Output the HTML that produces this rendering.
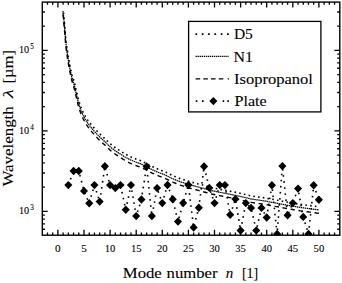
<!DOCTYPE html>
<html><head><meta charset="utf-8"><title>Wavelength vs mode number</title>
<style>html,body{margin:0;padding:0;background:#fff}svg{display:block}text{font-family:"Liberation Serif",serif;fill:#000;stroke:#000;stroke-width:0.1px}</style>
</head><body>
<svg width="342" height="283" viewBox="0 0 342 283">
<rect width="342" height="283" fill="#fff"/>
<defs><clipPath id="c"><rect x="42.3" y="2.1" width="297.5" height="233.1"/></clipPath><clipPath id="c2"><rect x="42.3" y="10.3" width="297.5" height="224.89999999999998"/></clipPath></defs>
<g clip-path="url(#c)">
<path d="M68.3,185.1 L73.6,171.0 L78.8,171.0 L84.0,190.9 L89.2,203.3 L94.4,185.1 L99.7,201.6 L104.9,166.3 L110.1,185.1 L115.3,188.1 L120.5,185.1 L125.8,209.8 L131.0,185.1 L136.2,216.1 L141.4,199.5 L146.6,166.5 L151.9,216.1 L157.1,188.1 L162.3,203.1 L167.5,185.0 L172.7,199.2 L178.0,221.6 L183.2,203.0 L188.4,185.0 L193.6,227.5 L198.8,207.8 L204.1,166.5 L209.3,187.9 L214.5,203.1 L219.7,185.1 L224.9,185.1 L230.2,214.8 L235.4,199.1 L240.6,230.5 L245.8,203.1 L251.0,207.9 L256.3,230.4 L261.5,207.9 L266.7,217.5 L271.9,185.3 L277.1,234.0 L282.4,166.1 L287.6,215.3 L292.8,203.1 L298.0,188.6 L303.2,216.9 L308.5,234.0 L313.7,185.3 L318.9,199.8" fill="none" stroke="#000" stroke-width="1.6" stroke-dasharray="1.6 4.5"/>
<path d="M64.3,185.1 L68.3,180.9 L72.4,185.1 L68.3,189.3ZM69.5,171.0 L73.6,166.8 L77.6,171.0 L73.6,175.2ZM74.7,171.0 L78.8,166.8 L82.8,171.0 L78.8,175.2ZM80.0,190.9 L84.0,186.7 L88.0,190.9 L84.0,195.1ZM85.2,203.3 L89.2,199.1 L93.3,203.3 L89.2,207.5ZM90.4,185.1 L94.4,180.9 L98.5,185.1 L94.4,189.3ZM95.6,201.6 L99.7,197.4 L103.7,201.6 L99.7,205.8ZM100.8,166.3 L104.9,162.1 L108.9,166.3 L104.9,170.5ZM106.0,185.1 L110.1,180.9 L114.1,185.1 L110.1,189.3ZM111.3,188.1 L115.3,183.9 L119.4,188.1 L115.3,192.3ZM116.5,185.1 L120.5,180.9 L124.6,185.1 L120.5,189.3ZM121.7,209.8 L125.8,205.6 L129.8,209.8 L125.8,214.0ZM126.9,185.1 L131.0,180.9 L135.0,185.1 L131.0,189.3ZM132.1,216.1 L136.2,211.9 L140.2,216.1 L136.2,220.3ZM137.4,199.5 L141.4,195.3 L145.5,199.5 L141.4,203.7ZM142.6,166.5 L146.6,162.3 L150.7,166.5 L146.6,170.7ZM147.8,216.1 L151.9,211.9 L155.9,216.1 L151.9,220.3ZM153.0,188.1 L157.1,183.9 L161.1,188.1 L157.1,192.3ZM158.2,203.1 L162.3,198.9 L166.3,203.1 L162.3,207.3ZM163.5,185.0 L167.5,180.8 L171.6,185.0 L167.5,189.2ZM168.7,199.2 L172.7,195.0 L176.8,199.2 L172.7,203.4ZM173.9,221.6 L178.0,217.4 L182.0,221.6 L178.0,225.8ZM179.1,203.0 L183.2,198.8 L187.2,203.0 L183.2,207.2ZM184.3,185.0 L188.4,180.8 L192.5,185.0 L188.4,189.2ZM189.6,227.5 L193.6,223.3 L197.7,227.5 L193.6,231.7ZM194.8,207.8 L198.8,203.6 L202.9,207.8 L198.8,212.0ZM200.0,166.5 L204.1,162.3 L208.1,166.5 L204.1,170.7ZM205.2,187.9 L209.3,183.7 L213.3,187.9 L209.3,192.1ZM210.4,203.1 L214.5,198.9 L218.6,203.1 L214.5,207.3ZM215.7,185.1 L219.7,180.9 L223.8,185.1 L219.7,189.3ZM220.9,185.1 L224.9,180.9 L229.0,185.1 L224.9,189.3ZM226.1,214.8 L230.2,210.6 L234.2,214.8 L230.2,219.0ZM231.3,199.1 L235.4,194.9 L239.4,199.1 L235.4,203.3ZM236.5,230.5 L240.6,226.3 L244.7,230.5 L240.6,234.7ZM241.8,203.1 L245.8,198.9 L249.9,203.1 L245.8,207.3ZM247.0,207.9 L251.0,203.7 L255.1,207.9 L251.0,212.1ZM252.2,230.4 L256.3,226.2 L260.3,230.4 L256.3,234.6ZM257.4,207.9 L261.5,203.7 L265.5,207.9 L261.5,212.1ZM262.6,217.5 L266.7,213.3 L270.8,217.5 L266.7,221.7ZM267.9,185.3 L271.9,181.1 L276.0,185.3 L271.9,189.5ZM273.1,234.0 L277.1,229.8 L281.2,234.0 L277.1,238.2ZM278.3,166.1 L282.4,161.9 L286.4,166.1 L282.4,170.3ZM283.5,215.3 L287.6,211.1 L291.6,215.3 L287.6,219.5ZM288.7,203.1 L292.8,198.9 L296.8,203.1 L292.8,207.3ZM294.0,188.6 L298.0,184.4 L302.1,188.6 L298.0,192.8ZM299.2,216.9 L303.2,212.7 L307.3,216.9 L303.2,221.1ZM304.4,234.0 L308.5,229.8 L312.5,234.0 L308.5,238.2ZM309.6,185.3 L313.7,181.1 L317.7,185.3 L313.7,189.5ZM314.8,199.8 L318.9,195.6 L322.9,199.8 L318.9,204.0Z" fill="#000"/>
<g clip-path="url(#c2)"><path d="M62.9,7.8 L63.2,10.1 L63.5,12.4 L63.7,14.7 L63.9,17.0 L64.1,19.3 L64.3,21.6 L64.5,24.0 L64.7,26.3 L64.9,28.6 L65.1,30.9 L65.3,33.2 L65.5,35.5 L65.7,37.8 L65.9,40.1 L66.2,42.4 L66.5,44.7 L66.8,47.0 L67.1,49.3 L67.5,51.6 L67.9,53.9 L68.2,56.2 L68.6,58.5 L69.0,60.8 L69.5,63.0 L69.9,65.3 L70.4,67.6 L70.8,69.9 L71.4,72.1 L71.9,74.4 L72.6,76.6 L73.3,78.8 L73.9,81.0 L74.6,83.3 L75.1,85.5 L75.6,87.8 L76.1,90.0 L76.7,92.3 L77.2,94.6 L77.7,96.8 L78.3,99.1 L79.0,101.3 L79.7,103.5 L80.4,105.7 L81.2,107.9 L82.1,110.0 L83.1,112.1 L84.2,114.2 L85.3,116.2 L86.5,118.2 L87.8,120.1 L89.2,122.0 L90.6,123.8 L92.0,125.6 L93.6,127.4 L95.1,129.1 L96.7,130.8 L98.3,132.5 L100.0,134.1 L101.7,135.7 L103.4,137.3 L105.1,138.8 L106.7,140.5 L108.4,142.1 L110.1,143.6 L111.9,145.1 L113.7,146.5 L115.6,147.9 L117.6,149.2 L119.5,150.4 L121.5,151.7 L123.4,152.9 L125.4,154.1 L127.5,155.2 L129.5,156.3 L131.6,157.3 L133.7,158.1 L135.9,159.0 L138.1,159.8 L140.3,160.6 L142.4,161.5 L144.5,162.5 L146.5,163.6 L148.6,164.8 L150.6,165.8 L152.7,166.8 L154.8,167.8 L157.0,168.7 L159.1,169.6 L161.3,170.4 L163.5,171.2 L165.6,172.1 L167.7,173.1 L169.7,174.2 L171.8,175.2 L173.9,176.1 L176.1,177.0 L178.2,177.9 L180.4,178.7 L182.6,179.4 L184.8,180.1 L187.0,180.8 L189.3,181.4 L191.5,182.1 L193.7,182.7 L196.0,183.3 L198.2,183.9 L200.5,184.5 L202.7,185.1 L204.9,185.7 L207.2,186.3 L209.4,186.9 L211.7,187.5 L213.9,188.0 L216.2,188.5 L218.5,189.0 L220.7,189.4 L223.0,189.8 L225.3,190.2 L227.6,190.7 L229.9,191.1 L232.1,191.6 L234.4,192.1 L236.7,192.5 L238.9,193.0 L241.2,193.5 L243.5,194.1 L245.7,194.6 L248.0,195.2 L250.2,195.7 L252.5,196.1 L254.8,196.5 L257.1,196.8 L259.4,197.1 L261.7,197.4 L264.0,197.8 L266.3,198.1 L268.5,198.6 L270.8,199.0 L273.1,199.4 L275.4,199.9 L277.7,200.3 L279.9,200.7 L282.2,201.2 L284.5,201.6 L286.8,202.0 L289.1,202.4 L291.3,202.8 L293.6,203.2 L295.9,203.6 L298.2,204.0 L300.5,204.4 L302.8,204.7 L305.1,205.0 L307.4,205.3 L309.7,205.6 L312.0,205.9 L314.3,206.2 L316.6,206.5 L318.9,206.7" fill="none" stroke="#000" stroke-width="1.6" stroke-dasharray="1.6 3.2"/>
<path d="M62.9,10.9 L63.2,13.2 L63.5,15.5 L63.7,17.8 L63.9,20.1 L64.1,22.4 L64.3,24.7 L64.5,27.1 L64.7,29.4 L64.9,31.7 L65.1,34.0 L65.3,36.3 L65.5,38.6 L65.7,40.9 L65.9,43.2 L66.2,45.5 L66.5,47.8 L66.8,50.1 L67.1,52.4 L67.5,54.7 L67.9,57.0 L68.2,59.3 L68.6,61.6 L69.0,63.9 L69.5,66.1 L69.9,68.4 L70.4,70.7 L70.8,73.0 L71.4,75.2 L71.9,77.5 L72.6,79.7 L73.3,81.9 L73.9,84.1 L74.6,86.4 L75.1,88.6 L75.6,90.9 L76.1,93.1 L76.7,95.4 L77.2,97.7 L77.7,99.9 L78.3,102.2 L79.0,104.4 L79.7,106.6 L80.4,108.8 L81.2,111.0 L82.1,113.1 L83.1,115.2 L84.2,117.3 L85.3,119.3 L86.5,121.3 L87.8,123.2 L89.2,125.1 L90.6,126.9 L92.0,128.7 L93.6,130.5 L95.1,132.2 L96.7,133.9 L98.3,135.6 L100.0,137.2 L101.7,138.8 L103.4,140.4 L105.1,141.9 L106.7,143.6 L108.4,145.2 L110.1,146.7 L111.9,148.2 L113.7,149.6 L115.6,151.0 L117.6,152.3 L119.5,153.5 L121.5,154.8 L123.4,156.0 L125.4,157.2 L127.5,158.3 L129.5,159.4 L131.6,160.4 L133.7,161.2 L135.9,162.1 L138.1,162.9 L140.3,163.7 L142.4,164.6 L144.5,165.6 L146.5,166.7 L148.6,167.9 L150.6,168.9 L152.7,169.9 L154.8,170.9 L157.0,171.8 L159.1,172.7 L161.3,173.5 L163.5,174.3 L165.6,175.2 L167.7,176.2 L169.7,177.3 L171.8,178.3 L173.9,179.2 L176.1,180.1 L178.2,181.0 L180.4,181.8 L182.6,182.5 L184.8,183.2 L187.0,183.9 L189.3,184.5 L191.5,185.2 L193.7,185.8 L196.0,186.4 L198.2,187.0 L200.5,187.6 L202.7,188.2 L204.9,188.8 L207.2,189.4 L209.4,190.0 L211.7,190.6 L213.9,191.1 L216.2,191.6 L218.5,192.1 L220.7,192.5 L223.0,192.9 L225.3,193.3 L227.6,193.8 L229.9,194.2 L232.1,194.7 L234.4,195.2 L236.7,195.6 L238.9,196.1 L241.2,196.6 L243.5,197.2 L245.7,197.7 L248.0,198.3 L250.2,198.8 L252.5,199.2 L254.8,199.6 L257.1,199.9 L259.4,200.2 L261.7,200.5 L264.0,200.9 L266.3,201.2 L268.5,201.7 L270.8,202.1 L273.1,202.5 L275.4,203.0 L277.7,203.4 L279.9,203.8 L282.2,204.3 L284.5,204.7 L286.8,205.1 L289.1,205.5 L291.3,205.9 L293.6,206.3 L295.9,206.7 L298.2,207.1 L300.5,207.5 L302.8,207.8 L305.1,208.1 L307.4,208.4 L309.7,208.7 L312.0,209.0 L314.3,209.3 L316.6,209.6 L318.9,209.8" fill="none" stroke="#000" stroke-width="1.25" stroke-dasharray="1.5 0.55"/>
<path d="M62.9,14.3 L63.2,16.6 L63.5,18.9 L63.7,21.2 L63.9,23.5 L64.1,25.8 L64.3,28.1 L64.5,30.5 L64.7,32.8 L64.9,35.1 L65.1,37.4 L65.3,39.7 L65.5,42.0 L65.7,44.3 L65.9,46.6 L66.2,48.9 L66.5,51.2 L66.8,53.5 L67.1,55.8 L67.5,58.1 L67.9,60.4 L68.2,62.7 L68.6,65.0 L69.0,67.3 L69.5,69.5 L69.9,71.8 L70.4,74.1 L70.8,76.4 L71.4,78.6 L71.9,80.9 L72.6,83.1 L73.3,85.3 L73.9,87.5 L74.6,89.8 L75.1,92.0 L75.6,94.3 L76.1,96.5 L76.7,98.8 L77.2,101.1 L77.7,103.3 L78.3,105.6 L79.0,107.8 L79.7,110.0 L80.4,112.2 L81.2,114.4 L82.1,116.5 L83.1,118.6 L84.2,120.7 L85.3,122.7 L86.5,124.7 L87.8,126.6 L89.2,128.5 L90.6,130.3 L92.0,132.1 L93.6,133.9 L95.1,135.6 L96.7,137.3 L98.3,139.0 L100.0,140.6 L101.7,142.2 L103.4,143.8 L105.1,145.3 L106.7,147.0 L108.4,148.6 L110.1,150.1 L111.9,151.6 L113.7,153.0 L115.6,154.4 L117.6,155.7 L119.5,156.9 L121.5,158.2 L123.4,159.4 L125.4,160.6 L127.5,161.7 L129.5,162.8 L131.6,163.8 L133.7,164.6 L135.9,165.5 L138.1,166.3 L140.3,167.1 L142.4,168.0 L144.5,169.0 L146.5,170.1 L148.6,171.3 L150.6,172.3 L152.7,173.3 L154.8,174.3 L157.0,175.2 L159.1,176.1 L161.3,176.9 L163.5,177.7 L165.6,178.6 L167.7,179.6 L169.7,180.7 L171.8,181.7 L173.9,182.6 L176.1,183.5 L178.2,184.4 L180.4,185.2 L182.6,185.9 L184.8,186.6 L187.0,187.3 L189.3,187.9 L191.5,188.6 L193.7,189.2 L196.0,189.8 L198.2,190.4 L200.5,191.0 L202.7,191.6 L204.9,192.2 L207.2,192.8 L209.4,193.4 L211.7,194.0 L213.9,194.5 L216.2,195.0 L218.5,195.5 L220.7,195.9 L223.0,196.3 L225.3,196.7 L227.6,197.2 L229.9,197.6 L232.1,198.1 L234.4,198.6 L236.7,199.0 L238.9,199.5 L241.2,200.0 L243.5,200.6 L245.7,201.1 L248.0,201.7 L250.2,202.2 L252.5,202.6 L254.8,203.0 L257.1,203.3 L259.4,203.6 L261.7,203.9 L264.0,204.3 L266.3,204.6 L268.5,205.1 L270.8,205.5 L273.1,205.9 L275.4,206.4 L277.7,206.8 L279.9,207.2 L282.2,207.7 L284.5,208.1 L286.8,208.5 L289.1,208.9 L291.3,209.3 L293.6,209.7 L295.9,210.1 L298.2,210.5 L300.5,210.9 L302.8,211.2 L305.1,211.5 L307.4,211.8 L309.7,212.1 L312.0,212.4 L314.3,212.7 L316.6,213.0 L318.9,213.2" fill="none" stroke="#000" stroke-width="1.4" stroke-dasharray="4.4 3.7"/>
</g></g>
<path d="M47.46,235.2 v-2.6 M47.46,2.1 v2.6 M52.68,235.2 v-2.6 M52.68,2.1 v2.6 M57.90,235.2 v-5.4 M57.90,2.1 v5.4 M63.12,235.2 v-2.6 M63.12,2.1 v2.6 M68.34,235.2 v-2.6 M68.34,2.1 v2.6 M73.56,235.2 v-2.6 M73.56,2.1 v2.6 M78.78,235.2 v-2.6 M78.78,2.1 v2.6 M84.00,235.2 v-5.4 M84.00,2.1 v5.4 M89.22,235.2 v-2.6 M89.22,2.1 v2.6 M94.44,235.2 v-2.6 M94.44,2.1 v2.6 M99.66,235.2 v-2.6 M99.66,2.1 v2.6 M104.88,235.2 v-2.6 M104.88,2.1 v2.6 M110.10,235.2 v-5.4 M110.10,2.1 v5.4 M115.32,235.2 v-2.6 M115.32,2.1 v2.6 M120.54,235.2 v-2.6 M120.54,2.1 v2.6 M125.76,235.2 v-2.6 M125.76,2.1 v2.6 M130.98,235.2 v-2.6 M130.98,2.1 v2.6 M136.20,235.2 v-5.4 M136.20,2.1 v5.4 M141.42,235.2 v-2.6 M141.42,2.1 v2.6 M146.64,235.2 v-2.6 M146.64,2.1 v2.6 M151.86,235.2 v-2.6 M151.86,2.1 v2.6 M157.08,235.2 v-2.6 M157.08,2.1 v2.6 M162.30,235.2 v-5.4 M162.30,2.1 v5.4 M167.52,235.2 v-2.6 M167.52,2.1 v2.6 M172.74,235.2 v-2.6 M172.74,2.1 v2.6 M177.96,235.2 v-2.6 M177.96,2.1 v2.6 M183.18,235.2 v-2.6 M183.18,2.1 v2.6 M188.40,235.2 v-5.4 M188.40,2.1 v5.4 M193.62,235.2 v-2.6 M193.62,2.1 v2.6 M198.84,235.2 v-2.6 M198.84,2.1 v2.6 M204.06,235.2 v-2.6 M204.06,2.1 v2.6 M209.28,235.2 v-2.6 M209.28,2.1 v2.6 M214.50,235.2 v-5.4 M214.50,2.1 v5.4 M219.72,235.2 v-2.6 M219.72,2.1 v2.6 M224.94,235.2 v-2.6 M224.94,2.1 v2.6 M230.16,235.2 v-2.6 M230.16,2.1 v2.6 M235.38,235.2 v-2.6 M235.38,2.1 v2.6 M240.60,235.2 v-5.4 M240.60,2.1 v5.4 M245.82,235.2 v-2.6 M245.82,2.1 v2.6 M251.04,235.2 v-2.6 M251.04,2.1 v2.6 M256.26,235.2 v-2.6 M256.26,2.1 v2.6 M261.48,235.2 v-2.6 M261.48,2.1 v2.6 M266.70,235.2 v-5.4 M266.70,2.1 v5.4 M271.92,235.2 v-2.6 M271.92,2.1 v2.6 M277.14,235.2 v-2.6 M277.14,2.1 v2.6 M282.36,235.2 v-2.6 M282.36,2.1 v2.6 M287.58,235.2 v-2.6 M287.58,2.1 v2.6 M292.80,235.2 v-5.4 M292.80,2.1 v5.4 M298.02,235.2 v-2.6 M298.02,2.1 v2.6 M303.24,235.2 v-2.6 M303.24,2.1 v2.6 M308.46,235.2 v-2.6 M308.46,2.1 v2.6 M313.68,235.2 v-2.6 M313.68,2.1 v2.6 M318.90,235.2 v-5.4 M318.90,2.1 v5.4 M324.12,235.2 v-2.6 M324.12,2.1 v2.6 M329.34,235.2 v-2.6 M329.34,2.1 v2.6 M334.56,235.2 v-2.6 M334.56,2.1 v2.6 M42.3,229.26 h2.6 M339.8,229.26 h-2.6 M42.3,223.87 h2.6 M339.8,223.87 h-2.6 M42.3,219.20 h2.6 M339.8,219.20 h-2.6 M42.3,215.08 h2.6 M339.8,215.08 h-2.6 M42.3,211.40 h5.4 M339.8,211.40 h-5.4 M42.3,187.17 h2.6 M339.8,187.17 h-2.6 M42.3,172.99 h2.6 M339.8,172.99 h-2.6 M42.3,162.93 h2.6 M339.8,162.93 h-2.6 M42.3,155.13 h2.6 M339.8,155.13 h-2.6 M42.3,148.76 h2.6 M339.8,148.76 h-2.6 M42.3,143.37 h2.6 M339.8,143.37 h-2.6 M42.3,138.70 h2.6 M339.8,138.70 h-2.6 M42.3,134.58 h2.6 M339.8,134.58 h-2.6 M42.3,130.90 h5.4 M339.8,130.90 h-5.4 M42.3,106.67 h2.6 M339.8,106.67 h-2.6 M42.3,92.49 h2.6 M339.8,92.49 h-2.6 M42.3,82.43 h2.6 M339.8,82.43 h-2.6 M42.3,74.63 h2.6 M339.8,74.63 h-2.6 M42.3,68.26 h2.6 M339.8,68.26 h-2.6 M42.3,62.87 h2.6 M339.8,62.87 h-2.6 M42.3,58.20 h2.6 M339.8,58.20 h-2.6 M42.3,54.08 h2.6 M339.8,54.08 h-2.6 M42.3,50.40 h5.4 M339.8,50.40 h-5.4 M42.3,26.17 h2.6 M339.8,26.17 h-2.6 M42.3,11.99 h2.6 M339.8,11.99 h-2.6" stroke="#000" stroke-width="1.3" fill="none"/>
<rect x="42.3" y="2.1" width="297.5" height="233.1" fill="none" stroke="#000" stroke-width="1.4"/>
<rect x="188.6" y="21.4" width="132.3" height="90.5" fill="#fff" stroke="#000" stroke-width="1.3"/><path d="M195.45,34.1 H229" stroke="#000" stroke-width="1.7" stroke-dasharray="1.7 4.62" fill="none"/><path d="M195.5,56.4 H228.8" stroke="#000" stroke-width="1.25" stroke-dasharray="1.35 0.7" fill="none"/><path d="M195.6,78.9 H229" stroke="#000" stroke-width="1.15" stroke-dasharray="4.6 3.1 4.6 3.1 4.6 3.1 4.6 4.4 1.3 99" fill="none"/><path d="M195.7,101.1 h1.6 M202.0,101.1 h1.6 M222.6,101.1 h1.6 M227.3,101.1 h1.6" stroke="#000" stroke-width="1.6" fill="none"/><path d="M209.4,101.1 L213.4,96.9 L217.4,101.1 L213.4,105.3Z" fill="#000"/><text x="233.9" y="39.3" font-size="14.8" text-anchor="start" textLength="19.0" lengthAdjust="spacingAndGlyphs" >D5</text><text x="233.6" y="61.9" font-size="14.8" text-anchor="start" textLength="19.4" lengthAdjust="spacingAndGlyphs" >N1</text><text x="234.0" y="84.0" font-size="14.8" text-anchor="start" textLength="78.9" lengthAdjust="spacingAndGlyphs" >Isopropanol</text><text x="234.5" y="106.1" font-size="14.8" text-anchor="start" textLength="32.2" lengthAdjust="spacingAndGlyphs" >Plate</text>
<text x="55.1" y="251.8" font-size="10.6" text-anchor="start" textLength="5.6" lengthAdjust="spacingAndGlyphs" >0</text><text x="81.2" y="251.8" font-size="10.6" text-anchor="start" textLength="5.6" lengthAdjust="spacingAndGlyphs" >5</text><text x="104.8" y="251.8" font-size="10.6" text-anchor="start" textLength="10.6" lengthAdjust="spacingAndGlyphs" >10</text><text x="130.9" y="251.8" font-size="10.6" text-anchor="start" textLength="10.6" lengthAdjust="spacingAndGlyphs" >15</text><text x="157.0" y="251.8" font-size="10.6" text-anchor="start" textLength="10.6" lengthAdjust="spacingAndGlyphs" >20</text><text x="183.1" y="251.8" font-size="10.6" text-anchor="start" textLength="10.6" lengthAdjust="spacingAndGlyphs" >25</text><text x="209.2" y="251.8" font-size="10.6" text-anchor="start" textLength="10.6" lengthAdjust="spacingAndGlyphs" >30</text><text x="235.3" y="251.8" font-size="10.6" text-anchor="start" textLength="10.6" lengthAdjust="spacingAndGlyphs" >35</text><text x="261.4" y="251.8" font-size="10.6" text-anchor="start" textLength="10.6" lengthAdjust="spacingAndGlyphs" >40</text><text x="287.5" y="251.8" font-size="10.6" text-anchor="start" textLength="10.6" lengthAdjust="spacingAndGlyphs" >45</text><text x="313.6" y="251.8" font-size="10.6" text-anchor="start" textLength="10.6" lengthAdjust="spacingAndGlyphs" >50</text><text x="19.0" y="53.4" font-size="10.6" text-anchor="start" textLength="10.2" lengthAdjust="spacingAndGlyphs" >10</text><text x="30.2" y="49.1" font-size="7.6" text-anchor="start" textLength="3.6" lengthAdjust="spacingAndGlyphs" >5</text><text x="19.0" y="133.9" font-size="10.6" text-anchor="start" textLength="10.2" lengthAdjust="spacingAndGlyphs" >10</text><text x="30.2" y="129.6" font-size="7.6" text-anchor="start" textLength="3.6" lengthAdjust="spacingAndGlyphs" >4</text><text x="19.0" y="214.4" font-size="10.6" text-anchor="start" textLength="10.2" lengthAdjust="spacingAndGlyphs" >10</text><text x="30.2" y="210.1" font-size="7.6" text-anchor="start" textLength="3.6" lengthAdjust="spacingAndGlyphs" >3</text><text x="122.8" y="278.3" font-size="14.8" text-anchor="start" textLength="39.0" lengthAdjust="spacingAndGlyphs" >Mode</text><text x="166.6" y="278.3" font-size="14.8" text-anchor="start" textLength="51.0" lengthAdjust="spacingAndGlyphs" >number</text><text x="225.8" y="278.3" font-size="14.8" text-anchor="start" textLength="7.5" lengthAdjust="spacingAndGlyphs" font-style="italic">n</text><text x="242.0" y="278.3" font-size="14.8" text-anchor="start" textLength="16.2" lengthAdjust="spacingAndGlyphs" >[1]</text><g transform="translate(12.9,186.6) rotate(-90)"><text x="0" y="0" font-size="14.8" text-anchor="start" textLength="80.4" lengthAdjust="spacingAndGlyphs" >Wavelength</text><text x="88.6" y="0" font-size="14.8" text-anchor="start" textLength="8.8" lengthAdjust="spacingAndGlyphs" font-style="italic">λ</text><text x="103.2" y="0" font-size="14.8" text-anchor="start" textLength="33.4" lengthAdjust="spacingAndGlyphs" >[µm]</text></g>
</svg>
</body></html>
